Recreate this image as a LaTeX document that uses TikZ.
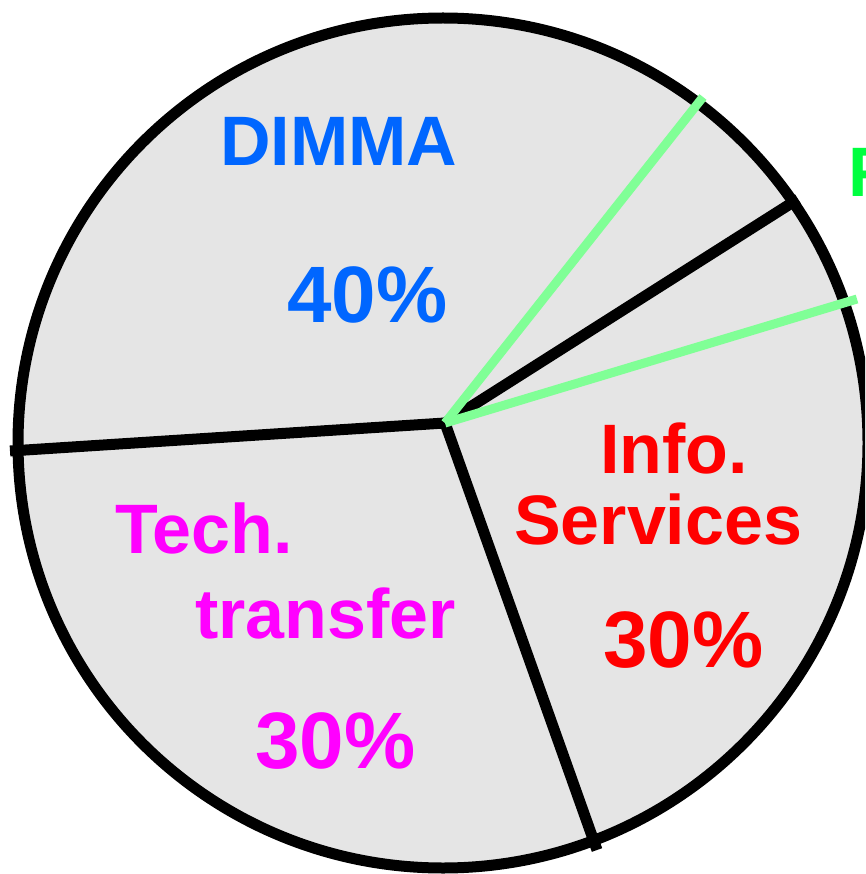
\documentclass[tikz,border=0pt]{standalone}
\usepackage{fontspec}
\setmainfont{Liberation Sans}
\definecolor{piefill}{HTML}{E5E5E5}
\definecolor{dimmablue}{HTML}{0066FF}
\definecolor{techmag}{HTML}{FF00FF}
\definecolor{infored}{HTML}{FF0000}
\definecolor{lightgreen}{RGB}{128,255,150}
\definecolor{brightgreen}{RGB}{0,255,64}
\tikzset{
  rim/.style={draw=black, line width=11pt, fill=piefill},
  blackspoke/.style={draw=black, line width=11pt},
  greenspoke/.style={draw=lightgreen, line width=9pt},
  lbl/.style={inner sep=0pt, anchor=base west, font=\bfseries\fontsize{70}{70}\selectfont},
  pct/.style={inner sep=0pt, anchor=base west, font=\bfseries\fontsize{80}{80}\selectfont}
}
\begin{document}
\begin{tikzpicture}[x=1pt,y=-1pt]
\useasboundingbox (0,0) rectangle (865,874);
\clip (0,0) rectangle (865,874);
% outer disc
\path[rim] (443,443) circle [radius=425];
% spoke ends
\coordinate (apex) at (445,423);
\coordinate (eleft) at (10,451);
\coordinate (ebottom) at (597,850);
\coordinate (eupright) at (798,199);
\coordinate (egreenA) at (703,97);
\coordinate (egreenB) at (857,299);
% black spokes
\draw[blackspoke] (apex) -- (eleft);
\draw[blackspoke] (apex) -- (ebottom);
\draw[blackspoke] (apex) -- (eupright);
% green spokes
\draw[greenspoke] (apex) -- (egreenA);
\draw[greenspoke] (apex) -- (egreenB);
% labels
\node[lbl, text=dimmablue] (dimma) at (220,166) {DIMMA};
\node[pct, text=dimmablue] (p40) at (287,322) {40\%};
\node[lbl, text=techmag] (tech) at (115,553) {Tech.};
\node[lbl, text=techmag] (transfer) at (195,638) {transfer};
\node[pct, text=techmag] (p30a) at (255,768) {30\%};
\node[lbl, text=infored] (info) at (600,473) {Info.};
\node[lbl, text=infored] (services) at (514,544) {Services};
\node[pct, text=infored] (p30b) at (603,667) {30\%};
\node[lbl, text=brightgreen] (fgreen) at (848,197) {F};
\end{tikzpicture}
\end{document}
